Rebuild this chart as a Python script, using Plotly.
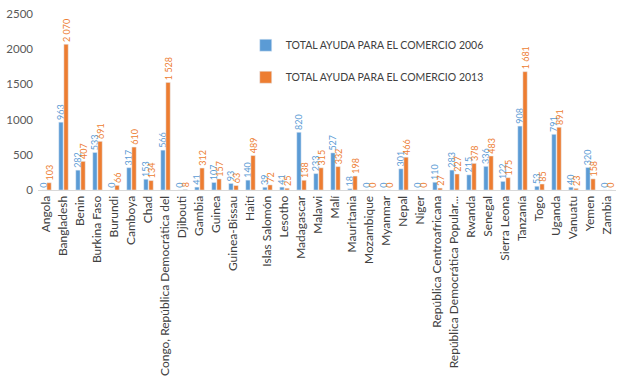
import plotly.graph_objects as go

categories = ["Angola", "Bangladesh", "Benin", "Burkina Faso", "Burundi", "Camboya", "Chad",
              "Congo, República Democrática del", "Djibouti", "Gambia", "Guinea", "Guinea-Bissau",
              "Haití", "Islas Salomón", "Lesotho", "Madagascar", "Malawi", "Malí", "Mauritania",
              "Mozambique", "Myanmar", "Nepal", "Niger", "República Centroafricana",
              "República Democrática Popular...", "Rwanda", "Senegal", "Sierra Leona", "Tanzanía",
              "Togo", "Uganda", "Vanuatu", "Yemen", "Zambia"]
values_2006 = [0, 963, 282, 533, 0, 317, 153, 566, 0, 41, 107, 93, 140, 39, 41, 820, 233, 527, 18,
               0, 0, 301, 0, 110, 283, 215, 336, 122, 908, 53, 791, 40, 320, 0]
values_2013 = [103, 2070, 407, 691, 66, 610, 134, 1528, 8, 312, 157, 63, 489, 72, 25, 138, 315, 332, 198,
               0, 0, 466, 0, 27, 227, 378, 483, 175, 1681, 85, 891, 23, 158, 0]
series_names = ["TOTAL AYUDA PARA EL COMERCIO 2006", "TOTAL AYUDA PARA EL COMERCIO 2013"]
y_ticks = [0, 500, 1000, 1500, 2000, 2500]

BLUE = "#5B9BD5"
ORANGE = "#ED7D31"
FONT = "Lato"

def fmt(v):
    # leading no-break space keeps a small gap between bar top and rotated label
    return "\u00a0" + f"{v:,}".replace(",", " ")

colors_2013 = [ORANGE] * len(categories)
colors_2013[categories.index("Djibouti")] = "#A5A5A5"

fig = go.Figure()
fig.add_trace(go.Bar(
    x=categories, y=values_2006, name=series_names[0], marker_color=BLUE,
    text=[fmt(v) for v in values_2006], textposition="outside", textangle=-90,
    textfont=dict(color=BLUE, size=9, family=FONT), constraintext="none",
    cliponaxis=False, legendgroup="a"))
fig.add_trace(go.Bar(
    x=categories, y=values_2013, name=series_names[1], marker_color=colors_2013,
    text=[fmt(v) for v in values_2013], textposition="outside", textangle=-90,
    textfont=dict(color=ORANGE, size=9, family=FONT), constraintext="none",
    cliponaxis=False, legendgroup="b"))

fig.update_layout(
    width=627, height=376,
    margin=dict(l=38, r=11, t=14, b=186, autoexpand=False),
    paper_bgcolor="white", plot_bgcolor="white",
    barmode="group", bargap=0.4, bargroupgap=0.15,
    font=dict(family=FONT, color="#595959", size=11),
    showlegend=True,
    legend=dict(x=0.3594, y=0.905, xanchor="left", yanchor="top",
                font=dict(size=10.5, color="#404040", family=FONT),
                itemwidth=30, tracegroupgap=13, bgcolor="rgba(0,0,0,0)"),
    xaxis=dict(type="category", tickangle=-90, showgrid=False, showline=True,
               linecolor="#D9D9D9", linewidth=1, ticks="", automargin=False,
               tickfont=dict(size=12, color="#404040", family=FONT)),
    yaxis=dict(range=[0, 2500], tickvals=y_ticks, showgrid=False, zeroline=False,
               showline=False, ticks="", automargin=False, ticklabelstandoff=4,
               tickfont=dict(size=11.5, color="#595959", family=FONT)),
)

fig.write_html("out.html", config={"displayModeBar": False},
               post_script="document.body.style.margin='0';")
